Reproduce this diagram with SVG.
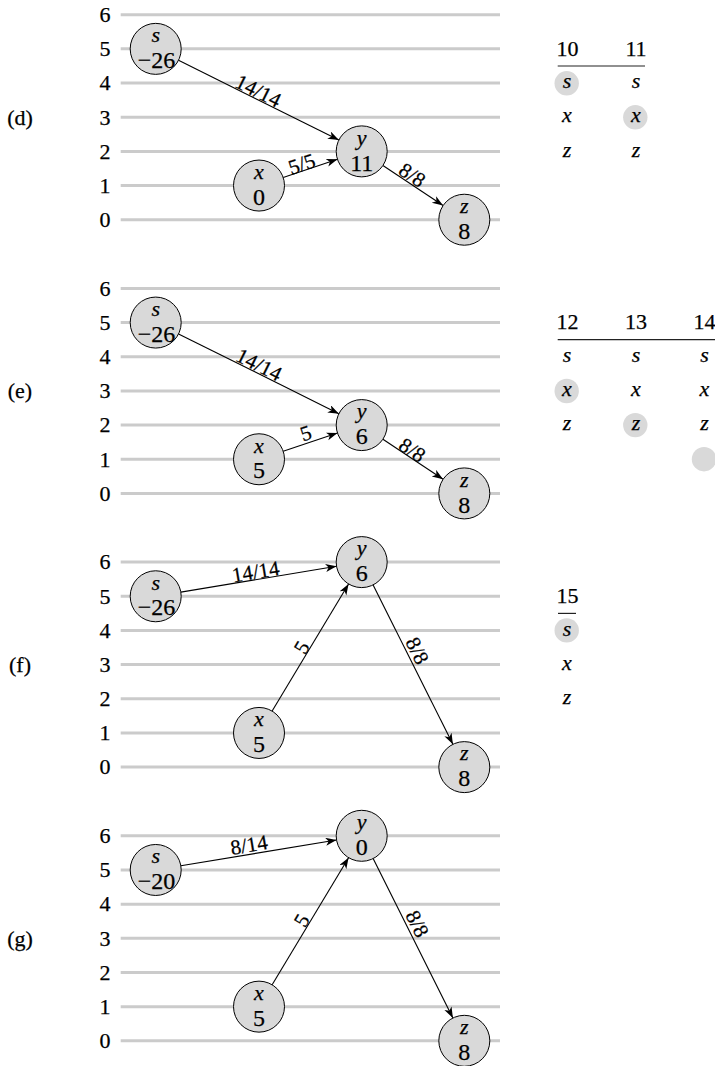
<svg xmlns="http://www.w3.org/2000/svg" width="715" height="1066" viewBox="0 0 715 1066" font-family="'Liberation Serif', 'Times New Roman', serif">
<defs>
<marker id="ah" markerUnits="userSpaceOnUse" markerWidth="12" markerHeight="9" refX="11" refY="4" orient="auto">
<path d="M0,0 L11,4 L0,8 L3,4 Z" fill="#000"/>
</marker>
</defs>
<style>
text{font-family:'Liberation Serif','Times New Roman',serif;font-size:22px;fill:#000;stroke:#000;stroke-width:0.25}
.it{font-style:italic}
.m{text-anchor:middle}
.num{font-size:24px}
.el{font-size:21px}
.grid line{stroke:#cbcbcb;stroke-width:3}
.node circle{fill:#d9d9d9;stroke:#000;stroke-width:1}
.hl{fill:#d9d9d9}
.edges line{stroke:#000;stroke-width:1.1;marker-end:url(#ah)}
.rule{stroke:#222;stroke-width:1.2}
</style>
<rect width="715" height="1066" fill="#fff"/>

<g class="grid">
<line x1="120.7" y1="14.7" x2="500" y2="14.7"/><line x1="120.7" y1="48.87" x2="500" y2="48.87"/><line x1="120.7" y1="83.04" x2="500" y2="83.04"/><line x1="120.7" y1="117.21" x2="500" y2="117.21"/><line x1="120.7" y1="151.38" x2="500" y2="151.38"/><line x1="120.7" y1="185.55" x2="500" y2="185.55"/><line x1="120.7" y1="219.72" x2="500" y2="219.72"/>
<line x1="120.7" y1="288.4" x2="500" y2="288.4"/><line x1="120.7" y1="322.57" x2="500" y2="322.57"/><line x1="120.7" y1="356.74" x2="500" y2="356.74"/><line x1="120.7" y1="390.91" x2="500" y2="390.91"/><line x1="120.7" y1="425.08" x2="500" y2="425.08"/><line x1="120.7" y1="459.25" x2="500" y2="459.25"/><line x1="120.7" y1="493.42" x2="500" y2="493.42"/>
<line x1="120.7" y1="562.1" x2="500" y2="562.1"/><line x1="120.7" y1="596.27" x2="500" y2="596.27"/><line x1="120.7" y1="630.44" x2="500" y2="630.44"/><line x1="120.7" y1="664.61" x2="500" y2="664.61"/><line x1="120.7" y1="698.78" x2="500" y2="698.78"/><line x1="120.7" y1="732.95" x2="500" y2="732.95"/><line x1="120.7" y1="767.12" x2="500" y2="767.12"/>
<line x1="120.7" y1="835.8" x2="500" y2="835.8"/><line x1="120.7" y1="869.97" x2="500" y2="869.97"/><line x1="120.7" y1="904.14" x2="500" y2="904.14"/><line x1="120.7" y1="938.31" x2="500" y2="938.31"/><line x1="120.7" y1="972.48" x2="500" y2="972.48"/><line x1="120.7" y1="1006.65" x2="500" y2="1006.65"/><line x1="120.7" y1="1040.82" x2="500" y2="1040.82"/>
</g>

<g id="axis">
<text class="m" x="105" y="22">6</text><text class="m" x="105" y="56.2">5</text><text class="m" x="105" y="90.3">4</text><text class="m" x="105" y="124.5">3</text><text class="m" x="105" y="158.7">2</text><text class="m" x="105" y="192.8">1</text><text class="m" x="105" y="227">0</text>
<text class="m" x="105" y="295.7">6</text><text class="m" x="105" y="329.9">5</text><text class="m" x="105" y="364">4</text><text class="m" x="105" y="398.2">3</text><text class="m" x="105" y="432.4">2</text><text class="m" x="105" y="466.5">1</text><text class="m" x="105" y="500.7">0</text>
<text class="m" x="105" y="569.4">6</text><text class="m" x="105" y="603.6">5</text><text class="m" x="105" y="637.7">4</text><text class="m" x="105" y="671.9">3</text><text class="m" x="105" y="706.1">2</text><text class="m" x="105" y="740.2">1</text><text class="m" x="105" y="774.4">0</text>
<text class="m" x="105" y="843.1">6</text><text class="m" x="105" y="877.3">5</text><text class="m" x="105" y="911.4">4</text><text class="m" x="105" y="945.6">3</text><text class="m" x="105" y="979.8">2</text><text class="m" x="105" y="1013.9">1</text><text class="m" x="105" y="1048.1">0</text>
</g>

<g id="panel-labels">
<text class="m" x="20" y="124.5">(d)</text>
<text class="m" x="20" y="398.2">(e)</text>
<text class="m" x="20" y="671.9">(f)</text>
<text class="m" x="20" y="945.6">(g)</text>
</g>

<g class="edges" id="connectors">
<line x1="178.53" y1="60.23" x2="338.87" y2="140.02"/>
<line x1="283.2" y1="177.5" x2="337.5" y2="159.33"/>
<line x1="382.92" y1="165.52" x2="443.08" y2="205.58"/>
<line x1="178.53" y1="333.93" x2="338.87" y2="413.72"/>
<line x1="283.2" y1="451.2" x2="337.5" y2="433.03"/>
<line x1="382.92" y1="439.22" x2="443.08" y2="479.28"/>
<line x1="180.86" y1="592.1" x2="336.54" y2="566.27"/>
<line x1="272.14" y1="711.09" x2="348.56" y2="583.96"/>
<line x1="373.11" y1="584.9" x2="452.89" y2="744.32"/>
<line x1="180.86" y1="865.8" x2="336.54" y2="839.97"/>
<line x1="272.14" y1="984.79" x2="348.56" y2="857.66"/>
<line x1="373.11" y1="858.6" x2="452.89" y2="1018.02"/>
</g>

<g id="edge-labels">
<text class="m el" transform="translate(258.3,91) rotate(26.45)" y="7">14/14</text>
<text class="m el" transform="translate(301.7,164) rotate(-18.4)" y="7">5/5</text>
<text class="m el" transform="translate(412.3,175) rotate(33.67)" y="7">8/8</text>
<text class="m el" transform="translate(259,364.7) rotate(26.45)" y="7">14/14</text>
<text class="m el" transform="translate(305.7,433.3) rotate(-18.4)" y="7">5</text>
<text class="m el" transform="translate(412.3,450) rotate(33.67)" y="7">8/8</text>
<text class="m el" transform="translate(255.7,571.7) rotate(-9.42)" y="7">14/14</text>
<text class="m el" transform="translate(301.7,647.3) rotate(-59)" y="7">5</text>
<text class="m el" transform="translate(417.3,650.7) rotate(63.42)" y="7">8/8</text>
<text class="m el" transform="translate(249,845) rotate(-9.42)" y="7">8/14</text>
<text class="m el" transform="translate(301.7,920.5) rotate(-59)" y="7">5</text>
<text class="m el" transform="translate(417.3,923.8) rotate(63.42)" y="7">8/8</text>
</g>

<g id="d-s" class="node"><circle cx="155.7" cy="48.87" r="25.5"/><text class="it m" x="155.7" y="42.2">s</text><text class="m num" x="156.5" y="68">−26</text></g>
<g id="d-x" class="node"><circle cx="259" cy="185.55" r="25.5"/><text class="it m" x="259" y="178.9">x</text><text class="m num" x="259" y="204.7">0</text></g>
<g id="d-y" class="node"><circle cx="361.7" cy="151.38" r="25.5"/><text class="it m" x="361.7" y="144.7">y</text><text class="m num" x="361.7" y="170.5">11</text></g>
<g id="d-z" class="node"><circle cx="464.3" cy="219.72" r="25.5"/><text class="it m" x="464.3" y="213">z</text><text class="m num" x="464.3" y="238.8">8</text></g>

<g id="e-s" class="node"><circle cx="155.7" cy="322.57" r="25.5"/><text class="it m" x="155.7" y="315.9">s</text><text class="m num" x="156.5" y="341.7">−26</text></g>
<g id="e-x" class="node"><circle cx="259" cy="459.25" r="25.5"/><text class="it m" x="259" y="452.6">x</text><text class="m num" x="259" y="478.4">5</text></g>
<g id="e-y" class="node"><circle cx="361.7" cy="425.08" r="25.5"/><text class="it m" x="361.7" y="418.4">y</text><text class="m num" x="361.7" y="444.2">6</text></g>
<g id="e-z" class="node"><circle cx="464.3" cy="493.42" r="25.5"/><text class="it m" x="464.3" y="486.7">z</text><text class="m num" x="464.3" y="512.5">8</text></g>

<g id="f-s" class="node"><circle cx="155.7" cy="596.27" r="25.5"/><text class="it m" x="155.7" y="589.6">s</text><text class="m num" x="156.5" y="615.4">−26</text></g>
<g id="f-x" class="node"><circle cx="259" cy="732.95" r="25.5"/><text class="it m" x="259" y="726.3">x</text><text class="m num" x="259" y="752.1">5</text></g>
<g id="f-y" class="node"><circle cx="361.7" cy="562.1" r="25.5"/><text class="it m" x="361.7" y="555.4">y</text><text class="m num" x="361.7" y="581.2">6</text></g>
<g id="f-z" class="node"><circle cx="464.3" cy="767.12" r="25.5"/><text class="it m" x="464.3" y="760.4">z</text><text class="m num" x="464.3" y="786.2">8</text></g>

<g id="g-s" class="node"><circle cx="155.7" cy="869.97" r="25.5"/><text class="it m" x="155.7" y="863.3">s</text><text class="m num" x="156.5" y="889.1">−20</text></g>
<g id="g-x" class="node"><circle cx="259" cy="1006.65" r="25.5"/><text class="it m" x="259" y="1000">x</text><text class="m num" x="259" y="1025.8">5</text></g>
<g id="g-y" class="node"><circle cx="361.7" cy="835.8" r="25.5"/><text class="it m" x="361.7" y="829.1">y</text><text class="m num" x="361.7" y="854.9">0</text></g>
<g id="g-z" class="node"><circle cx="464.3" cy="1040.82" r="25.5"/><text class="it m" x="464.3" y="1034.1">z</text><text class="m num" x="464.3" y="1059.9">8</text></g>

<g id="table-d">
<text class="m" x="567.5" y="55.5">10</text><text class="m" x="636" y="55.5">11</text>
<line class="rule" x1="557.7" y1="66" x2="645" y2="66"/>
<circle class="hl" cx="566.7" cy="83.3" r="12.2"/><circle class="hl" cx="635.3" cy="117.3" r="12.2"/>
<text class="it m" x="567" y="88.3">s</text><text class="it m" x="636" y="88.3">s</text>
<text class="it m" x="567" y="122.4">x</text><text class="it m" x="636" y="122.4">x</text>
<text class="it m" x="567" y="156.5">z</text><text class="it m" x="636" y="156.5">z</text>
</g>

<g id="table-e">
<text class="m" x="567.5" y="329.2">12</text><text class="m" x="636" y="329.2">13</text><text class="m" x="704.5" y="329.2">14</text>
<line class="rule" x1="557.7" y1="339.7" x2="715" y2="339.7"/>
<circle class="hl" cx="566.7" cy="391" r="12.2"/><circle class="hl" cx="635.3" cy="425.1" r="12.2"/><circle class="hl" cx="704" cy="459.2" r="12.2"/>
<text class="it m" x="567" y="361.9">s</text><text class="it m" x="636" y="361.9">s</text><text class="it m" x="704.5" y="361.9">s</text>
<text class="it m" x="567" y="396.1">x</text><text class="it m" x="636" y="396.1">x</text><text class="it m" x="704.5" y="396.1">x</text>
<text class="it m" x="567" y="430.2">z</text><text class="it m" x="636" y="430.2">z</text><text class="it m" x="704.5" y="430.2">z</text>
</g>

<g id="table-f">
<text class="m" x="567.5" y="602.8">15</text>
<line class="rule" x1="558" y1="613.4" x2="576" y2="613.4"/>
<circle class="hl" cx="566.7" cy="630.4" r="12.2"/>
<text class="it m" x="567" y="635.5">s</text>
<text class="it m" x="567" y="669.7">x</text>
<text class="it m" x="567" y="703.9">z</text>
</g>
</svg>
